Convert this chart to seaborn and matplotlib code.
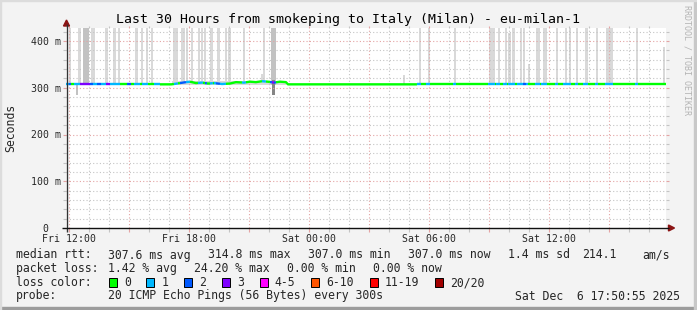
import numpy as np
import pandas as pd
import matplotlib
matplotlib.use("Agg")
import matplotlib.pyplot as plt
import seaborn as sns
from matplotlib.lines import Line2D
from matplotlib.patches import Rectangle, Polygon

sns.set_theme(style="white")
plt.rcParams['font.family'] = ['DejaVu Sans Mono', 'DejaVu Sans']
plt.rcParams['lines.solid_capstyle'] = 'butt'

# ---------------- data (time in hours since Fri 00:00, values in ms) ----------------
t_start, t_end = 11.833, 41.833
tick_hours = [12, 18, 24, 30, 36]
tick_labels = ["Fri 12:00", "Fri 18:00", "Sat 00:00", "Sat 06:00", "Sat 12:00"]
ytick_ms = [0, 100, 200, 300, 400]
ytick_labels = ["0  ", "100 m", "200 m", "300 m", "400 m"]

median_h = [11.83, 17.10, 17.23, 17.53, 17.83, 18.03, 18.33, 18.63, 18.93, 19.23, 19.63,
            20.03, 20.33, 20.73, 21.03, 21.33, 21.63, 21.93, 22.23, 22.53, 22.83, 22.93, 41.83]
median_ms = [307.3, 307.3, 308, 310, 312, 313, 310, 311, 309, 310, 308,
             309, 312, 311, 313, 312, 314, 313, 311, 313, 312, 307.3, 307.3]

loss_start = [11.83, 11.98, 12.23, 12.53, 13.03, 13.18, 13.38, 13.58, 13.83, 14.03,
              14.88, 15.23, 15.63, 16.23, 17.23, 17.53, 17.83, 18.43, 18.78,
              19.03, 19.23, 19.33, 19.53, 20.63, 21.63, 22.03, 22.13, 22.23,
              29.38, 29.82, 31.18, 32.93, 33.33, 33.68, 33.93, 34.38, 34.70, 34.83,
              35.27, 35.60, 36.30, 36.67, 37.27, 37.70, 38.27, 38.77, 40.30]
loss_end = [11.98, 12.08, 12.53, 13.03, 13.18, 13.38, 13.58, 13.83, 14.03, 14.53,
            15.08, 15.53, 15.93, 16.53, 17.43, 17.83, 18.03, 18.68, 18.88,
            19.18, 19.33, 19.53, 19.83, 20.83, 21.83, 22.13, 22.23, 22.33,
            29.58, 30.02, 31.33, 33.27, 33.53, 33.87, 34.27, 34.70, 34.83, 34.93,
            35.53, 35.90, 36.43, 37.07, 37.43, 37.93, 38.43, 39.17, 40.43]
loss_cat = [1, 2, 1, 3, 2, 1, 2, 1, 3, 1,
            2, 1, 1, 1, 1, 2, 1, 1, 2,
            1, 1, 2, 1, 1, 1, 2, 3, 2,
            1, 1, 1, 1, 1, 1, 1, 1, 2, 1,
            1, 1, 1, 1, 1, 1, 1, 1, 1]

spike_start = [12.02, 12.43, 12.68, 13.07, 13.78, 14.18, 14.42, 15.27, 15.58, 15.83,
               16.07, 17.17, 17.57, 17.83, 18.07, 18.42, 18.57, 18.77, 19.03, 19.40,
               19.77, 19.93, 20.67, 21.68, 22.07, 29.52, 29.95, 31.27, 33.00, 33.42,
               33.77, 33.93, 34.15, 34.53, 34.68, 34.93, 35.33, 35.68, 36.33, 36.78,
               36.97, 37.33, 37.78, 38.33, 38.83, 40.33, 41.68,
               28.68, 21.58, 12.33, 17.15, 22.12]
spike_end = [12.07, 12.57, 12.98, 13.28, 13.92, 14.33, 14.53, 15.43, 15.68, 15.93,
             16.17, 17.43, 17.80, 17.93, 18.17, 18.53, 18.70, 18.83, 19.17, 19.53,
             19.87, 20.07, 20.78, 21.78, 22.32, 29.58, 30.02, 31.33, 33.27, 33.53,
             33.87, 34.07, 34.27, 34.60, 34.78, 35.05, 35.53, 35.90, 36.43, 36.87,
             37.08, 37.43, 37.93, 38.43, 39.17, 40.43, 41.78,
             28.77, 21.68, 12.43, 22.85, 22.28]
spike_top = [500] * 31 + [418] + [500] * 3 + [351] + [500] * 10 + [387] + [328, 330, 307, 315, 316]
spike_bottom = [306] * 47 + [306, 306, 285, 306, 285]
spike_level = [1, 1, 2] + [1] * 21 + [2] + [1] * 22 + [1, 1, 2, 1, 3]

loss_labels = ["0", "1", "2", "3", "4-5", "6-10", "11-19", "20/20"]
loss_colors = ["#00ff00", "#00b8ff", "#0059ff", "#7e00ff", "#ff00ff", "#ff5500", "#ff0000", "#a10000"]

median_stats = [307.6, 314.8, 307.0, 307.0]
median_sd = 1.4
median_ams = 214.1
loss_stats = [1.42, 24.20, 0.00, 0.00]

# ---------------- figure ----------------
W, H = 697, 310
fig = plt.figure(figsize=(W / 100, H / 100), dpi=100)
fig.patch.set_facecolor("#f3f3f3")

def fx(x):
    return x / W

def fy(y):
    return 1 - y / H

# frame shading
fig.patches.append(Rectangle((0, 0), 1, 3 / H, transform=fig.transFigure, color="#9c9c9c", zorder=0))
fig.patches.append(Rectangle((1 - 3 / W, 0), 3 / W, 1, transform=fig.transFigure, color="#c8c8c8", zorder=0))
fig.patches.append(Rectangle((0, 1 - 1 / H), 1, 1 / H, transform=fig.transFigure, color="#dcdcdc", zorder=0))
fig.patches.append(Rectangle((0, 0), 1 / W, 1, transform=fig.transFigure, color="#dcdcdc", zorder=0))

L, R, T, B = 66, 666, 28, 228
ax = fig.add_axes([fx(L), fy(B), (R - L) / W, (B - T) / H])
ax.set_facecolor("white")
ax.set_xlim(t_start, t_end)
ax.set_ylim(0, 200 / 0.4675)
for s in ax.spines.values():
    s.set_visible(False)

# smoke
shade = {1: "#d9d9d9", 2: "#c2c2c2", 3: "#858585"}
min_w = 0.1  # hours (about 2 px)
order = np.argsort([spike_level[i] for i in range(len(spike_start))], kind="stable")
for i in order:
    s0, s1 = spike_start[i], spike_end[i]
    if s1 - s0 < min_w:
        mid = 0.5 * (s0 + s1)
        s0, s1 = mid - min_w / 2, mid + min_w / 2
    ax.bar(s0, spike_top[i] - spike_bottom[i], width=s1 - s0,
           bottom=spike_bottom[i], align="edge", color=shade[spike_level[i]], linewidth=0, zorder=1)

# grid (dotted, drawn over smoke)
gray = "#c4c4c4"
red = "#e4a4a4"
xb = ax.get_xaxis_transform()
yb = ax.get_yaxis_transform()
for h in range(12, 42):
    c = red if h % 3 == 0 else gray
    ax.add_line(Line2D([h, h], [0, 1], transform=xb, color=c, lw=0.8, ls=(0, (1, 2)), zorder=3))
    ax.add_line(Line2D([h, h], [-3.5 / 200, 0], transform=xb, color=c, lw=0.8, zorder=3, clip_on=False))
    ax.add_line(Line2D([h, h], [1, 1 + 2.5 / 200], transform=xb, color=c, lw=0.8, zorder=3, clip_on=False))
for v in range(20, 428, 20):
    c = red if v % 100 == 0 else gray
    ax.add_line(Line2D([0, 1], [v, v], transform=yb, color=c, lw=0.8, ls=(0, (1, 2)), zorder=3))
    ax.add_line(Line2D([-3.5 / 600, 0], [v, v], transform=yb, color=c, lw=0.8, zorder=3, clip_on=False))
    ax.add_line(Line2D([1, 1 + 3 / 600], [v, v], transform=yb, color=c, lw=0.8, zorder=3, clip_on=False))

# median line coloured by loss
knots_h = np.array(median_h)
knots_ms = np.array(median_ms)
bounds = sorted(set([t_start, t_end] + loss_start + loss_end))
rows = []
for i, (a, b) in enumerate(zip(bounds[:-1], bounds[1:])):
    cat = 0
    for s, e, c in zip(loss_start, loss_end, loss_cat):
        if s <= a + 1e-9 and b <= e + 1e-9:
            cat = c
    hs = [a] + [h for h in knots_h if a < h < b] + [b]
    for h in hs:
        rows.append(dict(h=h, ms=float(np.interp(h, knots_h, knots_ms)), loss=loss_labels[cat], piece=i))
df = pd.DataFrame(rows)
sns.lineplot(data=df, x="h", y="ms", hue="loss", units="piece", estimator=None, sort=False,
             palette=dict(zip(loss_labels, loss_colors)), linewidth=1.7, legend=False, ax=ax, zorder=6)

ax.set_xlabel("")
ax.set_ylabel("")
ax.set_xticks(tick_hours)
ax.set_xticklabels(tick_labels, fontsize=7.1)
ax.set_yticks(ytick_ms)
ax.set_yticklabels(ytick_labels, fontsize=7.1)
ax.tick_params(axis="x", length=0, pad=4.0)
ax.tick_params(axis="y", length=0, pad=3.8)

# axes lines + arrows
fig.add_artist(Line2D([fx(66.5), fx(66.5)], [fy(232), fy(24)], transform=fig.transFigure, color="#333333", lw=1.0))
fig.add_artist(Line2D([fx(62), fx(669)], [fy(228), fy(228)], transform=fig.transFigure, color="#111111", lw=1.0))
fig.add_artist(Polygon([(fx(63.5), fy(26)), (fx(69.5), fy(26)), (fx(66.5), fy(20))], closed=True,
                       transform=fig.transFigure, color="#8b1414"))
fig.add_artist(Polygon([(fx(668.5), fy(225)), (fx(668.5), fy(231)), (fx(674.5), fy(228))], closed=True,
                       transform=fig.transFigure, color="#8b1414"))

# texts
fig.text(fx(347.5), fy(19.3), "Last 30 Hours from smokeping to Italy (Milan) - eu-milan-1",
         ha="center", va="center", fontsize=9.5, color="black")
fig.text(fx(10.3), fy(127.5), "Seconds", rotation=90, ha="center", va="center", fontsize=8.3)
fig.text(fx(687.5), fy(60), "RRDTOOL / TOBI OETIKER", rotation=-90, ha="center", va="center",
         fontsize=6.0, color="#b4b4b4")

fs = 8.3
row_y = [255, 268.3, 282.5, 296]
def lt(x, y, s, **kw):
    fig.text(fx(x), fy(y), s, ha="left", va="center", fontsize=fs, **kw)

lt(16, row_y[0], "median rtt:")
for k, (val, nm) in enumerate(zip(median_stats, ["avg", "max", "min", "now"])):
    lt(107.7 + 100.2 * k, row_y[0], f"{val:.1f} ms {nm}")
lt(508.4, row_y[0], f"{median_sd:.1f} ms sd")
lt(582, row_y[0], f"{median_ams:.1f}")
lt(642, row_y[0], "am/s")

lt(16, row_y[1], "packet loss:")
loss_x = [107.7, 194.5, 287, 373]
for xx, val, nm in zip(loss_x, loss_stats, ["avg", "max", "min", "now"]):
    lt(xx, row_y[1], f"{val:.2f} % {nm}")

lt(16, row_y[2], "loss color:")
cw = 6.95
bx = 108.6
for lab, col in zip(loss_labels, loss_colors):
    fig.patches.append(Rectangle((fx(bx), fy(row_y[2] + 4.3)), 8 / W, 8.6 / H, transform=fig.transFigure,
                                 facecolor=col, edgecolor="black", lw=0.7))
    lt(bx + 15.2, row_y[2], lab)
    bx = bx + 15.2 + cw * len(lab) + 15.6

lt(16, row_y[3], "probe:")
lt(107.7, row_y[3], "20 ICMP Echo Pings (56 Bytes) every 300s")
fig.text(fx(680), fy(row_y[3]), "Sat Dec  6 17:50:55 2025", ha="right", va="center", fontsize=fs)

fig.savefig("out.png", dpi=100, facecolor=fig.get_facecolor())
